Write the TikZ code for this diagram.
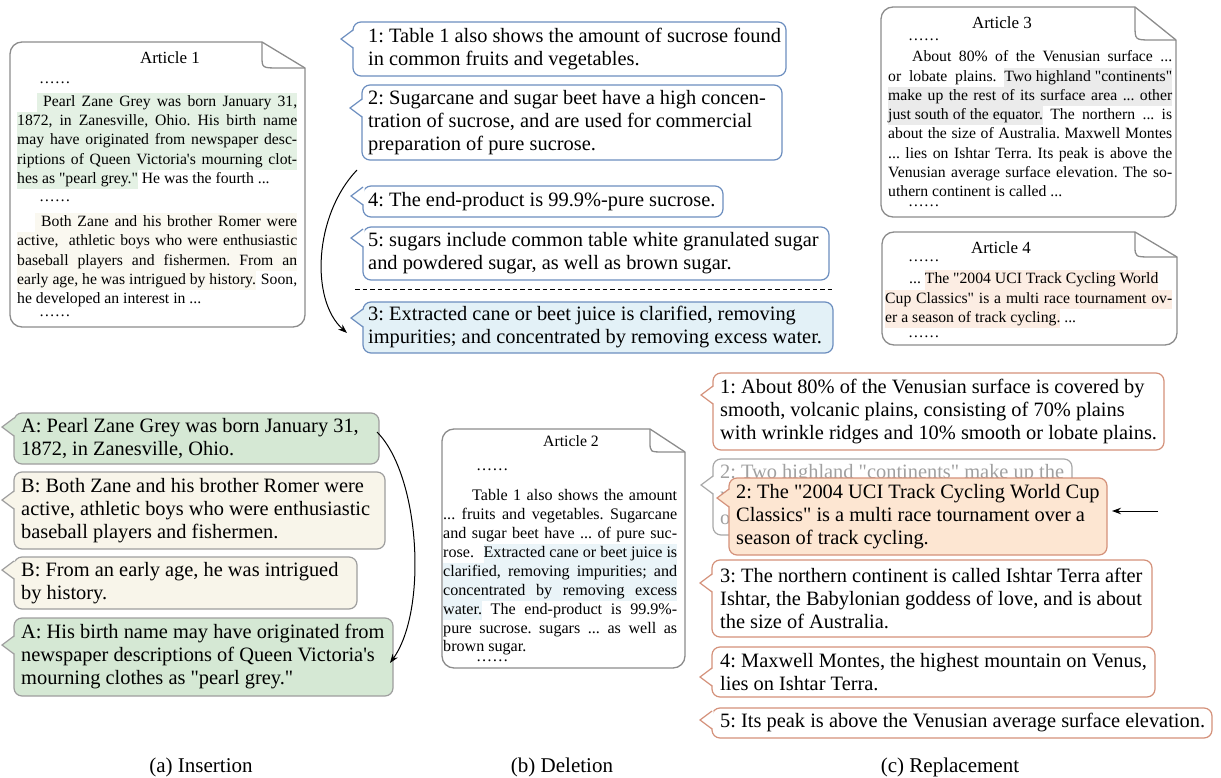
\documentclass[tikz,border=0pt]{standalone}
\usepackage{fontspec}
\setmainfont{Liberation Serif}[Ligatures=TeXOff]
\usetikzlibrary{arrows.meta}
\definecolor{bluebd}{HTML}{6C8EBF}
\definecolor{bluefill}{HTML}{E3F1F7}
\definecolor{greenfill}{HTML}{D5E8D4}
\definecolor{beigefill}{HTML}{F8F5EA}
\definecolor{greybd}{HTML}{9E9E9E}
\definecolor{orangebd}{HTML}{D4917A}
\definecolor{orangefill}{HTML}{FDE6D2}
\definecolor{ghostbd}{HTML}{A8A8A8}
\definecolor{ghosttxt}{HTML}{A0A0A0}
\definecolor{docgrey}{HTML}{8C8C8C}
\definecolor{hlgreen}{HTML}{E4F1E4}
\definecolor{hlbeige}{HTML}{FAF8F0}
\definecolor{hlgrey}{HTML}{EBEBEB}
\definecolor{hlpeach}{HTML}{FCEDE3}
\definecolor{hlblue}{HTML}{EAF4F8}
\newlength\AW
\setlength\fboxsep{0pt}
\frenchspacing
\newcommand\J[1]{\makebox[\AW][s]{\strut#1}}
\newcommand\HJ[2]{\colorbox{#1}{\makebox[\AW][s]{\strut#2}}}
\newcommand\HP[2]{\colorbox{#1}{\strut#2}}
\newcommand\IH[3]{\hspace*{#1}\colorbox{#2}{\makebox[\dimexpr\AW-#1\relax][s]{\strut#3}}}
\newcommand\bubshape[7]{%
  \path[fill=#6, draw=#7, line width=1.2pt, rounded corners=8pt] (#1,#2) rectangle (#3,#4);
  \fill[#6] ({#1+1.6},{#5-9}) -- ({#1-12},#5) -- ({#1+1.6},{#5+9}) -- cycle;
  \draw[#7, line width=1.2pt, line join=miter] (#1,{#5-9}) -- ({#1-12},#5) -- (#1,{#5+9});
}
\newcommand\docshape[6]{%
  \draw[docline, rounded corners=12pt] ({#3-#5},#2) -- (#1,#2) -- (#1,#4) -- (#3,#4) -- (#3,{#2+#6});
  \draw[docline] ({#3-#5},#2) -- (#3,{#2+#6});
  \draw[docline] ({#3-#5},#2) -- ({#3-#5},{#2+0.55*#6}) .. controls ({#3-#5},{#2+#6}) .. ({#3-0.6*#5},{#2+#6}) -- (#3,{#2+#6});
}
\begin{document}
\begin{tikzpicture}[x=1pt,y=-1pt,
  btxt/.style={anchor=west, align=left, inner sep=0pt, font=\fontsize{20.4}{23}\selectfont},
  arttxt/.style={anchor=north west, align=left, inner sep=0pt, font=\fontsize{15.7}{19.3}\selectfont},
  arttitle/.style={inner sep=0pt, font=\fontsize{17}{20}\selectfont},
  docline/.style={draw=docgrey, line width=1.3pt, line join=round},
  arr/.style={-{Stealth[length=9pt,width=6.5pt]}, line width=1pt},
  captxt/.style={inner sep=0pt, font=\fontsize{21}{24}\selectfont}]
\useasboundingbox (0,0) rectangle (1221,778);

% ---------- Article 1 ----------
\docshape{10}{42}{305}{327}{43}{26}
\node[arttitle] (a1t) at (170,58) {Article 1};
\setlength\AW{280pt}
\node[arttxt] (a1b) at (17,69.5) {%
\hspace*{22pt}……\strut\\[3.7pt]
\IH{20pt}{hlgreen}{\hspace*{6pt}Pearl Zane Grey was born January 31,}\\
\HJ{hlgreen}{1872, in Zanesville, Ohio. His birth name}\\
\HJ{hlgreen}{may have originated from newspaper desc-}\\
\HJ{hlgreen}{riptions of Queen Victoria's mourning clot-}\\
\strut\HP{hlgreen}{hes as "pearl grey."} He was the fourth ...\\[-1.2pt]
\hspace*{22pt}……\strut\\[5.7pt]
\IH{18pt}{hlbeige}{\hspace*{6pt}Both Zane and his brother Romer were}\\
\HJ{hlbeige}{active,\ \ athletic boys who were enthusiastic}\\
\HJ{hlbeige}{baseball players and fishermen. From an}\\
\J{\HP{hlbeige}{early age, he was intrigued by history.} Soon,}\\
\strut he developed an interest in ...\\[-6.7pt]
\hspace*{22pt}……\strut};

% ---------- top middle bubbles ----------
\bubshape{353}{22}{786}{76}{39}{white}{bluebd}
\node[btxt] (t1) at (368,49) {1: Table 1 also shows the amount of sucrose found\\in common fruits and vegetables.};
\bubshape{362}{85}{782}{160}{108}{white}{bluebd}
\node[btxt] (t2) at (368,122.5) {2: Sugarcane and sugar beet have a high concen-\\tration of sucrose, and are used for commercial\\preparation of pure sucrose.};
\bubshape{363}{186}{723}{217}{196}{white}{bluebd}
\node[btxt] (t4) at (368,201.5) {4: The end-product is 99.9\%-pure sucrose.};
\bubshape{363}{227}{829}{280}{238}{white}{bluebd}
\node[btxt] (t5) at (368,253.5) {5: sugars include common table white granulated sugar\\and powdered sugar, as well as brown sugar.};
\coordinate (dl1) at (355,289);
\coordinate (dl2) at (832,289);
\draw[dashed, dash pattern=on 4.5pt off 3pt, line width=1pt] (dl1) -- (dl2);
\bubshape{363}{302}{833}{353}{318}{bluefill}{bluebd}
\node[btxt] (t3) at (368,327.5) {3: Extracted cane or beet juice is clarified, removing\\impurities; and concentrated by removing excess water.};
\coordinate (mvs) at (357,170);
\coordinate (mve) at (347,333);
\draw[arr] (mvs) .. controls (314,215) and (310,300) .. (mve);

% ---------- Article 3 ----------
\docshape{881}{7}{1176}{217}{41}{33}
\node[arttitle] (a3t) at (1002,23) {Article 3};
\setlength\AW{284pt}
\node[arttxt] (a3b) at (888,26.5) {%
\hspace*{20pt}……\strut\\[2.2pt]
\J{\hspace*{24pt}About 80\% of the Venusian surface ...}\\
\J{or lobate plains. \HP{hlgrey}{Two highland "continents"}}\\
\HJ{hlgrey}{make up the rest of its surface area ... other}\\
\J{\HP{hlgrey}{just south of the equator.} The northern ... is}\\
\J{about the size of Australia. Maxwell Montes}\\
\J{... lies on Ishtar Terra. Its peak is above the}\\
\J{Venusian average surface elevation. The so-}\\
\strut uthern continent is called ...\\[-9.5pt]
\hspace*{20pt}……\strut};

% ---------- Article 4 ----------
\docshape{882}{232}{1177}{345}{42}{25}
\node[arttitle] (a4t) at (1001,248) {Article 4};
\setlength\AW{287pt}
\node[arttxt] (a4b) at (885,247.5) {%
\hspace*{23pt}……\strut\\[3.2pt]
\strut\hspace*{24pt}... \HP{hlpeach}{The "2004 UCI Track Cycling World}\\
\HJ{hlpeach}{Cup Classics" is a multi race tournament ov-}\\
\strut\HP{hlpeach}{er a season of track cycling.} ...\\[-3.8pt]
\hspace*{23pt}……\strut};

% ---------- bottom left bubbles ----------
\bubshape{14}{413}{379}{464}{427}{greenfill}{greybd}
\node[btxt] (ia1) at (21,438.5) {A: Pearl Zane Grey was born January 31,\\1872, in Zanesville, Ohio.};
\bubshape{14}{472}{385}{549}{500}{beigefill}{greybd}
\node[btxt] (ib1) at (21,510.5) {B: Both Zane and his brother Romer were\\active, athletic boys who were enthusiastic\\baseball players and fishermen.};
\bubshape{14}{557}{357}{609}{570}{beigefill}{greybd}
\node[btxt] (ib2) at (21,583) {B: From an early age, he was intrigued\\by history.};
\bubshape{14}{618}{393}{696}{645}{greenfill}{greybd}
\node[btxt] (ia2) at (21,657) {A: His birth name may have originated from\\newspaper descriptions of Queen Victoria's\\mourning clothes as "pearl grey."};
\coordinate (ias) at (377,432);
\coordinate (iae) at (390,663);
\draw[arr] (ias) .. controls (420,475) and (428,610) .. (iae);

% ---------- Article 2 ----------
\docshape{442}{429}{685}{668}{35}{23}
\node[arttitle, font=\fontsize{15.8}{19}\selectfont] (a2t) at (571,441) {Article 2};
\setlength\AW{234pt}
\node[arttxt, font=\fontsize{16.1}{18.9}\selectfont] (a2b) at (443,456.8) {%
\hspace*{33pt}……\strut\\[11.6pt]
\J{\hspace*{29pt}Table 1 also shows the amount}\\
\J{... fruits and vegetables. Sugarcane}\\
\J{and sugar beet have ... of pure suc-}\\
\J{rose. \HP{hlblue}{Extracted cane or beet juice is}}\\
\HJ{hlblue}{clarified, removing impurities; and}\\
\HJ{hlblue}{concentrated by removing excess}\\
\J{\HP{hlblue}{water.} The end-product is 99.9\%-}\\
\J{pure sucrose. sugars ... as well as}\\
\strut brown sugar.\\[-9pt]
\hspace*{33pt}……\strut};

% ---------- right bubbles ----------
\bubshape{713}{373}{1164}{450}{395}{white}{orangebd}
\node[btxt] (r1) at (720,411.5) {1: About 80\% of the Venusian surface is covered by\\smooth, volcanic plains, consisting of 70\% plains\\with wrinkle ridges and 10\% smooth or lobate plains.};
\bubshape{713}{459}{1072}{535}{485}{white}{ghostbd}
\node[btxt, text=ghosttxt] (rg) at (720,497) {2: Two highland "continents" make up the\\rest of its surface area ... one lying in\\other just south of the equator.};
\bubshape{729}{478}{1107}{555}{498}{orangefill}{orangebd}
\node[btxt] (ro) at (736,516.5) {2: The "2004 UCI Track Cycling World Cup\\Classics" is a multi race tournament over a\\season of track cycling.};
\coordinate (ras) at (1158,511);
\coordinate (rae) at (1112,511);
\draw[arr] (ras) -- (rae);
\bubshape{712}{560}{1152}{637}{583}{white}{orangebd}
\node[btxt] (r3) at (720,598.5) {3: The northern continent is called Ishtar Terra after\\Ishtar, the Babylonian goddess of love, and is about\\the size of Australia.};
\bubshape{712}{647}{1155}{697}{677}{white}{orangebd}
\node[btxt] (r4) at (720,672) {4: Maxwell Montes, the highest mountain on Venus,\\lies on Ishtar Terra.};
\bubshape{712}{708}{1212}{738}{720}{white}{orangebd}
\node[btxt] (r5) at (720,723) {5: Its peak is above the Venusian average surface elevation.};

% ---------- captions ----------
\node[captxt] (ca) at (201,767) {(a) Insertion};
\node[captxt] (cb) at (562,767) {(b) Deletion};
\node[captxt] (cc) at (950,767) {(c) Replacement};
\end{tikzpicture}
\end{document}
